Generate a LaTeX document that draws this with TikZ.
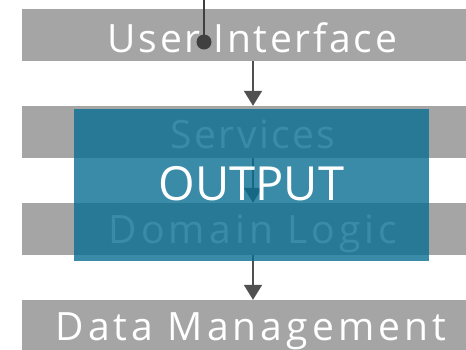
\documentclass[tikz,border=0pt]{standalone}
\usepackage{fontspec}
\setmainfont{Open Sans}
\newfontfamily\layerfont[LetterSpace=7]{Open Sans}
\newfontfamily\layerfontwide[LetterSpace=10.5]{Open Sans}
\newfontfamily\layerfontnarrow[LetterSpace=6]{Open Sans}
\usetikzlibrary{arrows.meta}
\definecolor{layergray}{RGB}{165,165,165}
\definecolor{outblue}{RGB}{9,111,146}
\definecolor{arrowgray}{RGB}{80,80,80}
\definecolor{dotgray}{RGB}{64,64,64}
\tikzset{
  layerbox/.style={fill=layergray, draw=none, minimum width=462pt, minimum height=52pt, inner sep=0pt},
  layertext/.style={text=white, font=\layerfont\fontsize{39}{39}\selectfont, anchor=base, inner sep=0pt},
  layertextwide/.style={layertext, font=\layerfontwide\fontsize{39}{39}\selectfont},
  layertextnarrow/.style={layertext, font=\layerfontnarrow\fontsize{39}{39}\selectfont},
  flow/.style={draw=arrowgray, line width=2pt, -{Triangle[width=18pt,length=15pt]}},
}
\begin{document}
\begin{tikzpicture}[x=1pt,y=-1pt]
\path[use as bounding box, clip] (0,0) rectangle (466,349);
\fill[white] (0,0) rectangle (466,349);
\node[layerbox] (ui) at (253,35) {};
\node[layerbox] (sv) at (253,132) {};
\node[layerbox] (dl) at (253,229) {};
\node[layerbox] (dm) at (253,326) {};
\node[layertext] (uit) at (252.5,52) {User Interface};
\node[layertextnarrow] (svt) at (253,148) {Services};
\node[layertextwide] (dlt) at (253,243) {Domain Logic};
\node[layertextwide] (dmt) at (251,340) {Data Management};
\coordinate (top) at (204,0);
\coordinate (dot) at (204,42);
\draw[dotgray, line width=2pt] (top) -- (dot);
\fill[dotgray] (dot) circle (7.5pt);
\draw[flow] (ui.south) -- (sv.north);
\draw[flow] (sv.south) -- (dl.north);
\draw[flow] (dl.south) -- (dm.north);
\node[fill=outblue, fill opacity=0.8, minimum width=355pt, minimum height=152pt, inner sep=0pt] (out) at (251.5,185) {};
\node[text=white, font=\fontsize{47}{47}\selectfont, anchor=base, inner sep=0pt] (outt) at (251.5,200) {OUTPUT};
\end{tikzpicture}
\end{document}
